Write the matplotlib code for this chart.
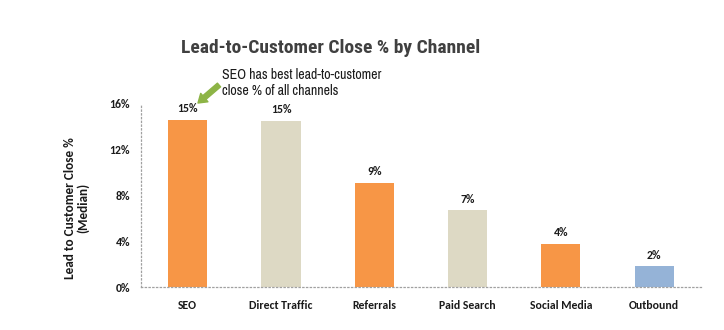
import matplotlib
matplotlib.use("Agg")
import matplotlib.pyplot as plt
from matplotlib import font_manager

channels = ["SEO", "Direct Traffic", "Referrals", "Paid Search", "Social Media", "Outbound"]
values = [14.6, 14.5, 9.1, 6.7, 3.8, 1.8]
labels = ["15%", "15%", "9%", "7%", "4%", "2%"]
colors = ["#F79646", "#DDD9C4", "#F79646", "#DDD9C4", "#F79646", "#95B3D7"]
yticks = [0, 4, 8, 12, 16]
ytick_labels = ["0%", "4%", "8%", "12%", "16%"]

names = {f.name for f in font_manager.fontManager.ttflist}
def pick(*cands):
    for c in cands:
        if c in names:
            return c
    return "DejaVu Sans"

body = pick("Carlito", "Lato")
title_font = pick("Roboto Condensed", "Fira Sans Condensed", "Archivo Narrow", "Asap Condensed")
note_font = pick("Archivo Narrow", "PT Sans Narrow", "Roboto Condensed")

fig = plt.figure(figsize=(7.24, 3.30), dpi=100)
ax = fig.add_axes([0.1948, 0.1303, 0.7732, 0.5547])

x = range(len(channels))
ax.bar(x, values, width=0.42, color=colors, zorder=2)
for i, (v, l) in enumerate(zip(values, labels)):
    ax.text(i, v + 0.5, l, ha="center", va="bottom", fontsize=8.5, fontweight="bold",
            color="#1a1a1a", family=body)

ax.set_xlim(-0.5, 5.5)
ax.set_ylim(0, 16)
ax.set_yticks(yticks)
ax.set_yticklabels(ytick_labels, fontsize=8.5, fontweight="bold", family=body, color="#1a1a1a")
ax.set_xticks(list(x))
ax.set_xticklabels(channels, fontsize=8.5, fontweight="bold", family=body, color="#1a1a1a")
ax.tick_params(length=0, pad=9)
ax.tick_params(axis="y", pad=8)

for s in ["top", "right"]:
    ax.spines[s].set_visible(False)
for s in ["left", "bottom"]:
    ax.spines[s].set_linestyle((0, (1, 2)))
    ax.spines[s].set_color("#a0a0a0")
    ax.spines[s].set_linewidth(0.9)

ax.set_ylabel("Lead to Customer Close %\n(Median)", fontsize=9.5, fontweight="bold",
              color="#1a1a1a", family=body, linespacing=1.0)
ax.yaxis.set_label_coords(-0.093, 0.43)

fig.text(0.456, 0.855, "Lead-to-Customer Close % by Channel", ha="center", va="center",
         fontsize=14, fontweight="bold", color="#404040", family=title_font)

fig.text(222 / 724, 1 - 83 / 330, "SEO has best lead-to-customer\nclose % of all channels",
         ha="left", va="center", fontsize=10, family=note_font, color="#1a1a1a",
         linespacing=1.1)
ax.annotate("", xy=(198 / 724, 1 - 103 / 330), xycoords="figure fraction",
            xytext=(219 / 724, 1 - 85 / 330), textcoords="figure fraction",
            annotation_clip=False,
            arrowprops=dict(arrowstyle="simple,head_width=0.8,head_length=0.6,tail_width=0.35",
                            color="#8DB446", shrinkA=0, shrinkB=0))

fig.savefig("out.png", dpi=100)
